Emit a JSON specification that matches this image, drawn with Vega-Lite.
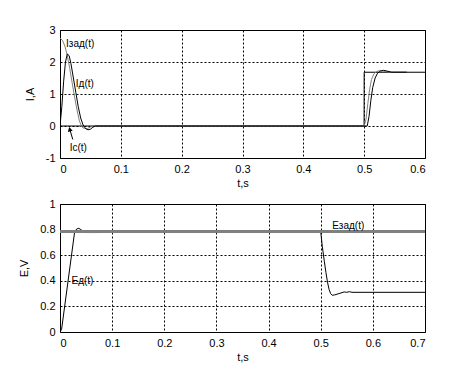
{
  "$schema": "https://vega.github.io/schema/vega-lite/v6.json",
  "padding": {"left": 18, "top": 23, "right": 5, "bottom": 5},
  "spacing": 8,
  "datasets": {
    "izad": [
      {"t": 0, "v": 2.75}, {"t": 0.004, "v": 2.68}, {"t": 0.008, "v": 2.5}, {"t": 0.012, "v": 2.2},
      {"t": 0.016, "v": 1.8}, {"t": 0.02, "v": 1.35}, {"t": 0.024, "v": 0.9}, {"t": 0.028, "v": 0.5},
      {"t": 0.032, "v": 0.15}, {"t": 0.036, "v": -0.03}, {"t": 0.04, "v": -0.08}, {"t": 0.045, "v": -0.08},
      {"t": 0.05, "v": -0.03}, {"t": 0.055, "v": 0}, {"t": 0.5, "v": 0}, {"t": 0.503, "v": 0.2},
      {"t": 0.506, "v": 0.7}, {"t": 0.509, "v": 1.15}, {"t": 0.512, "v": 1.45}, {"t": 0.516, "v": 1.63},
      {"t": 0.52, "v": 1.7}, {"t": 0.525, "v": 1.73}, {"t": 0.53, "v": 1.72}, {"t": 0.54, "v": 1.69},
      {"t": 0.55, "v": 1.68}, {"t": 0.57, "v": 1.68}
    ],
    "id": [
      {"t": 0, "v": 0}, {"t": 0.003, "v": 0.6}, {"t": 0.006, "v": 1.4}, {"t": 0.009, "v": 2.0},
      {"t": 0.012, "v": 2.25}, {"t": 0.015, "v": 2.2}, {"t": 0.018, "v": 1.95}, {"t": 0.022, "v": 1.5},
      {"t": 0.026, "v": 1.05}, {"t": 0.03, "v": 0.6}, {"t": 0.034, "v": 0.25}, {"t": 0.038, "v": 0.03},
      {"t": 0.042, "v": -0.08}, {"t": 0.046, "v": -0.12}, {"t": 0.05, "v": -0.1}, {"t": 0.054, "v": -0.04},
      {"t": 0.058, "v": 0}, {"t": 0.505, "v": 0}, {"t": 0.508, "v": 0.3}, {"t": 0.511, "v": 0.8},
      {"t": 0.514, "v": 1.2}, {"t": 0.518, "v": 1.5}, {"t": 0.522, "v": 1.65}, {"t": 0.527, "v": 1.72},
      {"t": 0.532, "v": 1.74}, {"t": 0.537, "v": 1.72}, {"t": 0.545, "v": 1.68}, {"t": 0.57, "v": 1.68}
    ],
    "ic": [
      {"t": 0, "v": 0}, {"t": 0.4999, "v": 0}, {"t": 0.5, "v": 1.68}, {"t": 0.6, "v": 1.68}
    ],
    "ezad": [
      {"t": 0, "v": 0.785}, {"t": 0.7, "v": 0.785}
    ],
    "ed": [
      {"t": 0, "v": 0}, {"t": 0.003, "v": 0.02}, {"t": 0.028, "v": 0.78}, {"t": 0.032, "v": 0.805},
      {"t": 0.036, "v": 0.81}, {"t": 0.04, "v": 0.8}, {"t": 0.045, "v": 0.785}, {"t": 0.05, "v": 0.777},
      {"t": 0.075, "v": 0.777}, {"t": 0.076, "v": 0.785}, {"t": 0.5, "v": 0.785}, {"t": 0.503, "v": 0.67},
      {"t": 0.507, "v": 0.55}, {"t": 0.51, "v": 0.465}, {"t": 0.513, "v": 0.39}, {"t": 0.516, "v": 0.333},
      {"t": 0.519, "v": 0.3}, {"t": 0.522, "v": 0.287}, {"t": 0.527, "v": 0.29}, {"t": 0.535, "v": 0.3},
      {"t": 0.545, "v": 0.313}, {"t": 0.55, "v": 0.31}, {"t": 0.555, "v": 0.315}, {"t": 0.56, "v": 0.31},
      {"t": 0.7, "v": 0.31}
    ],
    "toplabels": [
      {"t": 0.01, "v": 2.57, "label": "Iзад(t)"},
      {"t": 0.026, "v": 1.31, "label": "Iд(t)"},
      {"t": 0.016, "v": -0.7, "label": "Ic(t)"}
    ],
    "botlabels": [
      {"t": 0.522, "v": 0.83, "label": "Eзад(t)"},
      {"t": 0.022, "v": 0.395, "label": "Eд(t)"}
    ],
    "arrow": [
      {"t": 0.021, "v": -0.42, "t2": 0.016, "v2": -0.1}
    ]
  },
  "vconcat": [
    {
      "width": 365,
      "height": 128,
      "encoding": {
        "x": {"field": "t", "type": "quantitative", "scale": {"domain": [0, 0.6], "nice": false},
              "axis": {"values": [0, 0.1, 0.2, 0.3, 0.4, 0.5, 0.6], "labelExpr": "toString(datum.value)", "title": "t,s"}},
        "y": {"field": "v", "type": "quantitative", "scale": {"domain": [-1, 3], "nice": false, "zero": false},
              "axis": {"values": [-1, 0, 1, 2, 3], "labelExpr": "toString(datum.value)", "title": "I,A"}}
      },
      "layer": [
        {"data": {"name": "ic"}, "mark": {"type": "line", "color": "black", "strokeWidth": 1, "clip": true}},
        {"data": {"name": "izad"}, "mark": {"type": "line", "color": "#808080", "strokeWidth": 1, "clip": true}},
        {"data": {"name": "id"}, "mark": {"type": "line", "color": "black", "strokeWidth": 1, "clip": true}},
        {"data": {"name": "toplabels"}, "mark": {"type": "text", "align": "left", "baseline": "middle", "fontSize": 10, "font": "Liberation Sans", "color": "black"},
         "encoding": {"text": {"field": "label"}}},
        {"data": {"name": "arrow"}, "mark": {"type": "rule", "color": "black", "strokeWidth": 1},
         "encoding": {"x2": {"field": "t2"}, "y2": {"field": "v2"}}},
        {"data": {"name": "arrow"}, "mark": {"type": "point", "shape": "triangle-up", "filled": true, "color": "black", "size": 25, "angle": -15, "opacity": 1},
         "encoding": {"x": {"field": "t2", "type": "quantitative"}, "y": {"field": "v2", "type": "quantitative"}}}
      ]
    },
    {
      "width": 365,
      "height": 128,
      "encoding": {
        "x": {"field": "t", "type": "quantitative", "scale": {"domain": [0, 0.7], "nice": false},
              "axis": {"values": [0, 0.1, 0.2, 0.3, 0.4, 0.5, 0.6, 0.7], "labelExpr": "toString(datum.value)", "title": "t,s"}},
        "y": {"field": "v", "type": "quantitative", "scale": {"domain": [0, 1], "nice": false},
              "axis": {"values": [0, 0.2, 0.4, 0.6, 0.8, 1], "labelExpr": "toString(datum.value)", "title": "E,V"}}
      },
      "layer": [
        {"data": {"name": "ed"}, "mark": {"type": "line", "color": "black", "strokeWidth": 1, "clip": true}},
        {"data": {"name": "ezad"}, "mark": {"type": "line", "color": "#808080", "strokeWidth": 3}},
        {"data": {"name": "botlabels"}, "mark": {"type": "text", "align": "left", "baseline": "middle", "fontSize": 10, "font": "Liberation Sans", "color": "black"},
         "encoding": {"text": {"field": "label"}}}
      ]
    }
  ],
  "config": {
    "view": {"stroke": "black", "strokeWidth": 1},
    "axis": {
      "domain": false, "ticks": false, "grid": true, "gridColor": "black", "gridDash": [2, 2], "gridOpacity": 1, "gridWidth": 1,
      "labelFont": "Liberation Sans", "labelFontSize": 11, "labelColor": "black", "labelPadding": 5,
      "titleFont": "Liberation Sans", "titleFontSize": 11, "titleFontWeight": "normal", "titleColor": "black"
    },
    "axisY": {"titlePadding": 10},
    "axisX": {"titlePadding": 3}
  }
}
